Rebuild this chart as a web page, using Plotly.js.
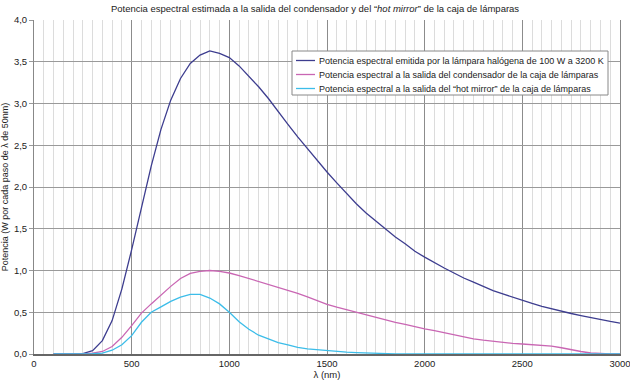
<!DOCTYPE html>
<html>
<head>
<meta charset="utf-8">
<script src="https://cdn.plot.ly/plotly-3.0.1.min.js"></script>
<style>html,body{margin:0;padding:0;background:#fff;}#chart{width:630px;height:380px;}</style>
</head>
<body>
<div id="chart"></div>
<script>
const lambdaNm = [100,150,200,250,300,350,400,450,500,550,600,650,700,750,800,850,900,950,1000,1050,1100,1150,1200,1250,1300,1350,1400,1450,1500,1550,1600,1650,1700,1750,1800,1850,1900,1950,2000,2050,2100,2150,2200,2250,2300,2350,2400,2450,2500,2550,2600,2650,2700,2750,2800,2850,2900,2950,3000];

const lampPower = [0,0,0,0.005,0.04,0.16,0.40,0.78,1.25,1.76,2.25,2.69,3.04,3.30,3.48,3.58,3.63,3.60,3.55,3.45,3.33,3.20,3.06,2.90,2.75,2.60,2.46,2.31,2.18,2.05,1.92,1.80,1.69,1.59,1.49,1.40,1.32,1.23,1.16,1.09,1.03,0.97,0.91,0.86,0.81,0.76,0.72,0.68,0.64,0.605,0.57,0.54,0.51,0.485,0.46,0.435,0.41,0.39,0.37];

const condenserPower = [0,0,0,0,0.01,0.03,0.09,0.20,0.34,0.49,0.60,0.71,0.81,0.905,0.965,0.99,1.0,0.99,0.97,0.94,0.905,0.87,0.835,0.80,0.765,0.725,0.685,0.64,0.595,0.56,0.53,0.50,0.465,0.435,0.405,0.38,0.355,0.325,0.30,0.28,0.255,0.23,0.20,0.18,0.165,0.15,0.138,0.128,0.12,0.11,0.10,0.095,0.075,0.05,0.03,0.012,0.002,0,0];

const hotMirrorPower = [0,0,0,0,0.003,0.01,0.045,0.11,0.22,0.38,0.50,0.565,0.63,0.68,0.715,0.715,0.67,0.60,0.50,0.387,0.296,0.225,0.176,0.135,0.108,0.08,0.062,0.05,0.04,0.03,0.022,0.016,0.011,0.007,0.004,0.002,0,0,0,0,0,0,0,0,0,0,0,0,0,0,0,0,0,0,0,0,0,0,0];

const seriesNames = [
  'Potencia espectral emitida por la lámpara halógena de 100 W a 3200 K',
  'Potencia espectral a la salida del condensador de la caja de lámparas',
  'Potencia espectral a la salida del “hot mirror” de la caja de lámparas'
];
const seriesColors = ['#3d3d8f', '#c966b3', '#3cbde9'];
const yTickVals = [0,0.5,1,1.5,2,2.5,3,3.5,4];

const traces = [lampPower, condenserPower, hotMirrorPower].map((ys, i) => ({
  type: 'scatter', mode: 'lines', x: lambdaNm, y: ys, name: seriesNames[i],
  line: {color: seriesColors[i], width: 1.3}, showlegend: false
}));

// Legend box (drawn in paper coordinates, pixel positions converted)
const M = {l: 34, r: 10, t: 20, b: 26}, W = 630, H = 380;
const pw = W - M.l - M.r, ph = H - M.t - M.b;
const px = v => (v - M.l) / pw;
const py = v => (H - M.b - v) / ph;
const shapes = [{type: 'rect', xref: 'paper', yref: 'paper', x0: px(292), x1: px(608), y0: py(95), y1: py(51),
                 fillcolor: '#fff', line: {color: '#888', width: 1}, layer: 'above'}];
const annotations = [];
const rowY = [60.5, 74.5, 88.5];
seriesNames.forEach((name, i) => {
  shapes.push({type: 'line', xref: 'paper', yref: 'paper', x0: px(296), x1: px(315), y0: py(rowY[i]), y1: py(rowY[i]),
               line: {color: seriesColors[i], width: 1.3}, layer: 'above'});
  annotations.push({xref: 'paper', yref: 'paper', x: px(317), y: py(rowY[i]), xanchor: 'left', yanchor: 'middle',
                    text: name, showarrow: false, font: {size: 9, color: '#222'}});
});

const layout = {
  width: W, height: H,
  margin: M,
  paper_bgcolor: '#fff', plot_bgcolor: '#fff',
  separators: ',.',
  font: {family: 'Liberation Sans, Arial, sans-serif', size: 9, color: '#222'},
  title: {text: 'Potencia espectral estimada a la salida del condensador y del “<i>hot mirror</i>” de la caja de lámparas',
          x: 0.5, xref: 'container', y: 0.985, yanchor: 'top', font: {size: 9.5, color: '#222'}},
  showlegend: false,
  shapes: shapes,
  annotations: annotations,
  xaxis: {range: [0, 3000], dtick: 500, tick0: 0, showgrid: true, gridcolor: '#8c8c8c', gridwidth: 1,
          minor: {dtick: 50, showgrid: true, gridcolor: '#dcdcdc', gridwidth: 1},
          zeroline: false, showline: true, linecolor: '#666', linewidth: 1.5, layer: 'below traces',
          ticks: '', tickfont: {size: 9.5}, automargin: false, ticklabeloverflow: 'allow',
          title: {text: 'λ (nm)', standoff: 4, font: {size: 9.5}}},
  yaxis: {range: [0, 4], tickvals: yTickVals, tickformat: '.1f', showgrid: true, gridcolor: '#9a9a9a', gridwidth: 1,
          zeroline: false, showline: true, mirror: true, linecolor: '#888', linewidth: 1, layer: 'below traces',
          ticks: 'outside', ticklen: 4, tickcolor: '#999', tickfont: {size: 9.5}, automargin: false,
          title: {text: 'Potencia (W por cada paso de λ de 50nm)', standoff: 6, font: {size: 9}}}
};

Plotly.newPlot('chart', traces, layout, {staticPlot: true, displayModeBar: false});
</script>
</body>
</html>
